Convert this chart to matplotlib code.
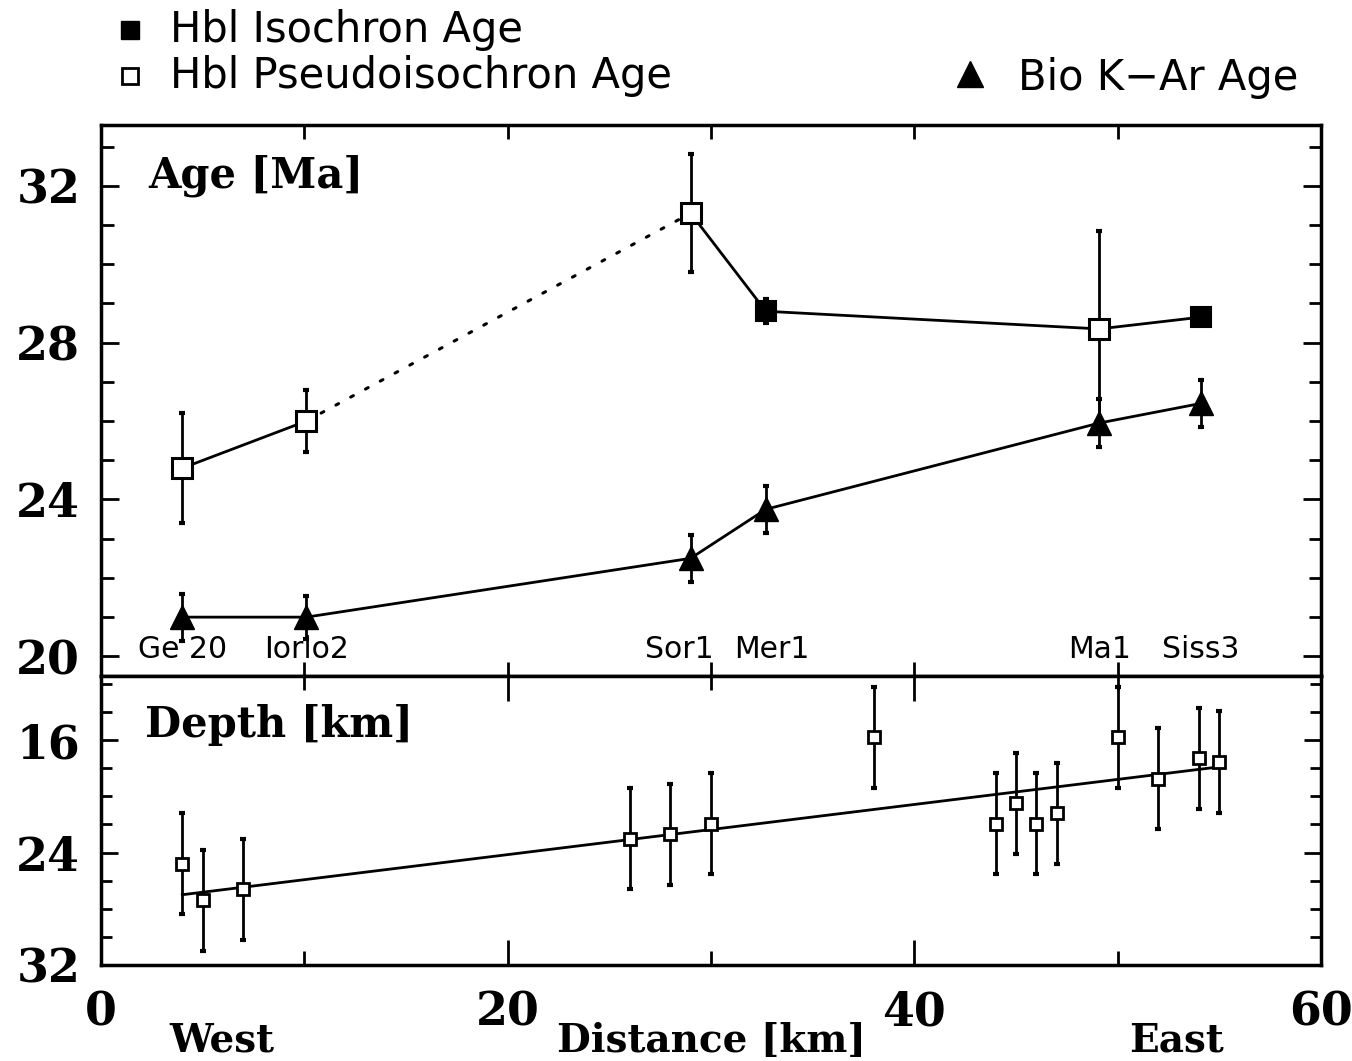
import matplotlib
matplotlib.use('Agg')
import matplotlib.pyplot as plt
from matplotlib.lines import Line2D
from matplotlib.ticker import MultipleLocator

# sample names and distance along the profile [km]
samples = ['Ge 20', 'Iorio2', 'Sor1', 'Mer1', 'Ma1', 'Siss3']
dist = [4.0, 10.1, 29.0, 32.7, 49.1, 54.1]

# hornblende ages [Ma], True = isochron age, False = pseudoisochron age
hbl_age = [24.8, 26.0, 31.3, 28.8, 28.35, 28.65]
hbl_err = [1.4, 0.8, 1.5, 0.3, 2.5, 0.0]
hbl_iso = [False, False, False, True, False, True]

# biotite K-Ar ages [Ma]
bio_age = [21.0, 21.0, 22.5, 23.75, 25.95, 26.45]
bio_err = [0.6, 0.55, 0.6, 0.6, 0.6, 0.6]

# depth estimates [km] along the profile
depth_x = [4, 5, 7, 26, 28, 30, 38, 44, 45, 46, 47, 50, 52, 54, 55]
depth = [24.8, 27.4, 26.6, 23.0, 22.7, 21.95, 15.8, 21.95, 20.5, 21.95,
         21.2, 15.8, 18.75, 17.3, 17.55]
depth_err = [3.6, 3.6, 3.6, 3.6, 3.6, 3.6, 3.6, 3.6, 3.6, 3.6,
             3.6, 3.6, 3.6, 3.6, 3.6]

# linear fit through the depth data
fit_x = [4, 55]
fit_depth = [27.0, 17.9]

serif = 'DejaVu Serif'
sans = 'DejaVu Sans'
lw = 2.0

fig = plt.figure(figsize=(13.52, 10.61), dpi=100)
ax1 = fig.add_axes([0.0747, 0.3629, 0.9023, 0.5193])
ax2 = fig.add_axes([0.0747, 0.0905, 0.9023, 0.2724])

# ---- top panel: ages
ax1.plot(dist[:2], hbl_age[:2], color='k', lw=lw, zorder=2)
ax1.plot(dist[1:3], hbl_age[1:3], color='k', lw=2.2, ls=(0, (1, 4.5)),
         dash_capstyle='round', zorder=2)
ax1.plot(dist[2:], hbl_age[2:], color='k', lw=lw, zorder=2)
ax1.plot(dist, bio_age, color='k', lw=lw, zorder=2)

ax1.errorbar(dist, hbl_age, yerr=hbl_err, fmt='none', ecolor='k',
             elinewidth=lw, capsize=2.5, capthick=3, zorder=3)
ax1.errorbar(dist, bio_age, yerr=bio_err, fmt='none', ecolor='k',
             elinewidth=lw, capsize=2.5, capthick=3, zorder=3)

for x, a, iso in zip(dist, hbl_age, hbl_iso):
    if iso:
        ax1.plot(x, a, 's', ms=15, mfc='k', mec='k', mew=1.5, zorder=4)
    else:
        ax1.plot(x, a, 's', ms=14, mfc='white', mec='k', mew=2.2, zorder=4)
ax1.plot(dist, bio_age, '^', ms=17, color='k', ls='none', zorder=4)

# small horizontal nudges so the labels don't run into each other
nudge = {'Sor1': -0.55, 'Mer1': 0.3}
for x, name in zip(dist, samples):
    ax1.text(x + nudge.get(name, 0), 19.95, name, ha='center',
             va='baseline', fontsize=21.5, family=sans)

ax1.text(0.0385, 0.8857, 'Age [Ma]', transform=ax1.transAxes, ha='left',
         va='baseline', fontsize=30, family=serif, weight='bold')

ax1.set_xlim(0, 60)
ax1.set_ylim(19.5, 33.55)
ax1.set_yticks([20, 24, 28, 32])
ax1.yaxis.set_minor_locator(MultipleLocator(1))
ax1.xaxis.set_major_locator(MultipleLocator(20))
ax1.xaxis.set_minor_locator(MultipleLocator(10))
ax1.tick_params(which='both', direction='in', top=True, right=True,
                labelbottom=False, width=2)
ax1.tick_params(axis='y', which='major', length=13, pad=15, labelsize=33)
ax1.tick_params(axis='y', which='minor', length=9)
ax1.tick_params(axis='x', which='both', length=10)

# ---- bottom panel: depth
ax2.plot(fit_x, fit_depth, color='k', lw=lw, zorder=2)
ax2.errorbar(depth_x, depth, yerr=depth_err, fmt='none', ecolor='k',
             elinewidth=lw, capsize=2.5, capthick=3, zorder=3)
ax2.plot(depth_x, depth, 's', ms=8, mfc='white', mec='k', mew=2,
         ls='none', zorder=4)

ax2.text(0.036, 0.789, 'Depth [km]', transform=ax2.transAxes, ha='left',
         va='baseline', fontsize=30, family=serif, weight='bold')

ax2.set_xlim(0, 60)
ax2.set_ylim(32, 11.43)
ax2.set_yticks([16, 24, 32])
ax2.yaxis.set_minor_locator(MultipleLocator(2))
ax2.xaxis.set_major_locator(MultipleLocator(20))
ax2.xaxis.set_minor_locator(MultipleLocator(10))
ax2.tick_params(which='both', direction='in', top=True, right=True, width=2)
ax2.tick_params(axis='y', which='major', length=12, pad=15, labelsize=33)
ax2.tick_params(axis='y', which='minor', length=8)
ax2.tick_params(axis='x', which='major', length=18, pad=18, labelsize=33)
ax2.tick_params(axis='x', which='minor', length=10)

for ax in (ax1, ax2):
    for sp in ax.spines.values():
        sp.set_linewidth(2.5)
    for lab in ax.get_xticklabels() + ax.get_yticklabels():
        lab.set_family(serif)
        lab.set_weight('bold')

# West / Distance / East labels under the x axis
xt = ax2.get_xaxis_transform()
ax2.text(5.96, -0.30, 'West', transform=xt, ha='center', va='baseline',
         fontsize=28, family=serif, weight='bold')
ax2.text(30.0, -0.30, 'Distance [km]', transform=xt, ha='center',
         va='baseline', fontsize=28, family=serif, weight='bold')
ax2.text(52.9, -0.30, 'East', transform=xt, ha='center', va='baseline',
         fontsize=28, family=serif, weight='bold')

# legend keys above the plot
fig.add_artist(Line2D([130 / 1352], [1 - 30 / 1061], marker='s', ms=13,
                      color='k', ls='none', transform=fig.transFigure))
fig.add_artist(Line2D([130 / 1352], [1 - 76 / 1061], marker='s', ms=12,
                      mfc='white', mec='k', mew=2, ls='none',
                      transform=fig.transFigure))
fig.add_artist(Line2D([970 / 1352], [1 - 74 / 1061], marker='^', ms=19,
                      color='k', ls='none', transform=fig.transFigure))
fig.text(170 / 1352, 1 - 42 / 1061, 'Hbl Isochron Age', ha='left',
         va='baseline', fontsize=30, family=sans)
fig.text(170 / 1352, 1 - 88 / 1061, 'Hbl Pseudoisochron Age', ha='left',
         va='baseline', fontsize=30, family=sans)
fig.text(1018 / 1352, 1 - 90 / 1061, 'Bio K\u2212Ar Age', ha='left',
         va='baseline', fontsize=30, family=sans)

fig.savefig('out.png', dpi=100)
